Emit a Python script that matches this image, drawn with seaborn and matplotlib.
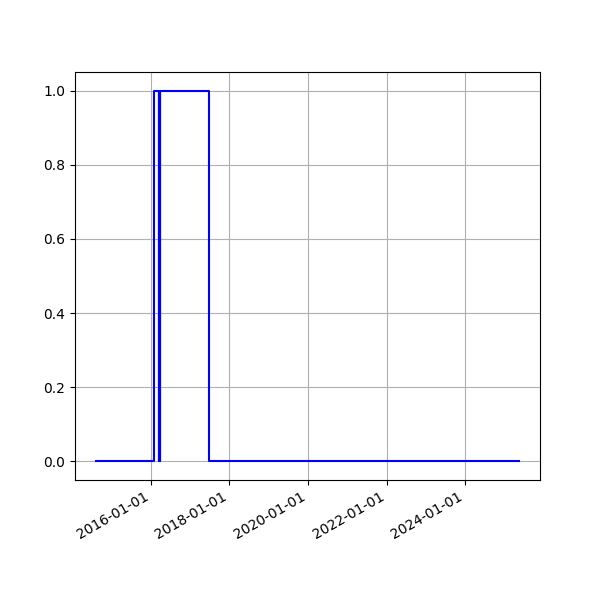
import pandas as pd
import matplotlib
matplotlib.use("Agg")
import matplotlib.pyplot as plt
import matplotlib.dates as mdates
import seaborn as sns

# change points of the 0/1 signal (value holds until next date)
dates = ["2014-08-10", "2016-02-01", "2016-03-13", "2016-03-16", "2016-03-19",
         "2016-03-22", "2016-03-25", "2016-03-28", "2017-06-26", "2025-05-15"]
values = [0, 1, 0, 1, 0, 1, 0, 1, 0, 0]

df = pd.DataFrame({"date": pd.to_datetime(dates), "signal": values})

fig, ax = plt.subplots(figsize=(6, 6), dpi=100)
sns.lineplot(data=df, x="date", y="signal", color="blue", linewidth=1.5,
             drawstyle="steps-post", ax=ax)
ax.set_xlabel("")
ax.set_ylabel("")
ax.grid(True)
ax.xaxis.set_major_locator(mdates.YearLocator(2))
ax.xaxis.set_major_formatter(mdates.DateFormatter("%Y-%m-%d"))
fig.autofmt_xdate()
fig.savefig("out.png", dpi=100)
